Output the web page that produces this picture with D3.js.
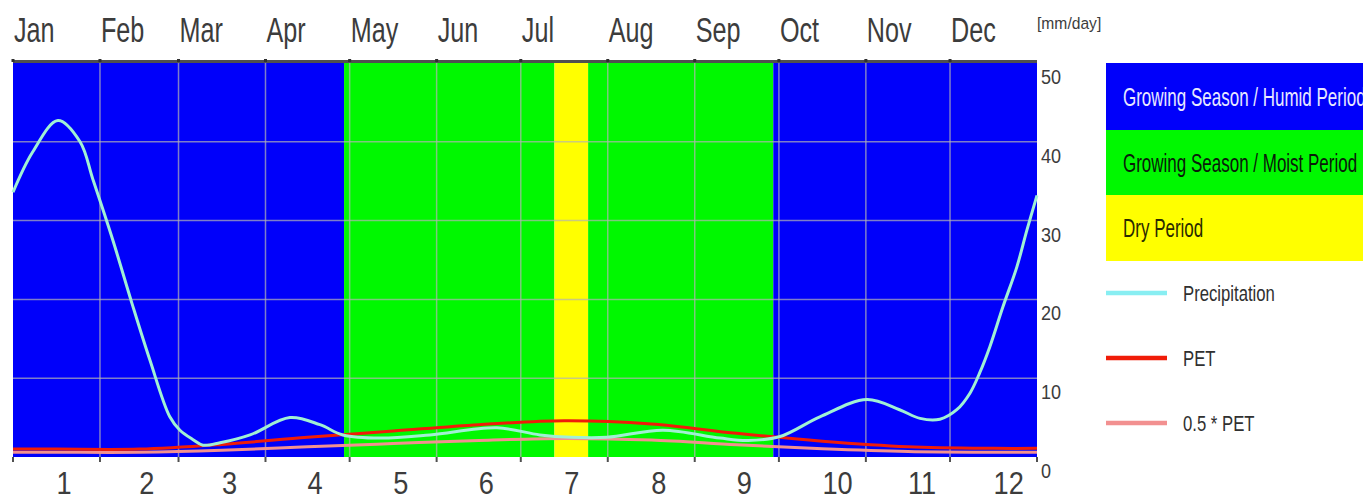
<!DOCTYPE html>
<html>
<head>
<meta charset="utf-8">
<script src="https://cdn.jsdelivr.net/npm/d3@7"></script>
<style>
  body { margin: 0; background: #fff; }
  text { font-family: "Liberation Sans", Arial, sans-serif; }
</style>
</head>
<body>
<svg id="chart" width="1363" height="499"></svg>
<script>
// Climate diagram: daily precipitation vs PET with growing-season periods

const monthNames = ['Jan', 'Feb', 'Mar', 'Apr', 'May', 'Jun', 'Jul', 'Aug', 'Sep', 'Oct', 'Nov', 'Dec'];
const monthNumbers = ['1', '2', '3', '4', '5', '6', '7', '8', '9', '10', '11', '12'];
const monthDays = [31, 28, 31, 30, 31, 30, 31, 31, 30, 31, 30, 31];
const yTicks = [0, 10, 20, 30, 40, 50];

// periods as day-of-year ranges
const periodStart = [0, 118, 193, 205, 271];
const periodEnd = [118, 193, 205, 271, 365];
const periodType = ['humid', 'moist', 'dry', 'moist', 'humid'];

// precipitation [mm/day], by day of year
const precipDay = [0, 7, 16, 23.9, 28.5, 35.6, 42.4, 48.8, 55.9, 59.5, 64.2, 67.7, 73.8, 84.5,
    98.7, 109.4, 117.6, 130.8, 148.6, 172.5, 187.8, 199, 211.7, 231.7, 252, 262, 273.4,
    287.6, 304.4, 316, 323.3, 330.4, 336.4, 341.1, 344.6, 348.2, 352.8, 357.8, 361.4, 365];
const precipValue = [33.6, 38.7, 42.7, 40.0, 35.2, 27.5, 19.5, 12.3, 5.1, 3.4, 2.2, 1.5, 1.8, 2.8,
    5.0, 4.1, 2.8, 2.4, 2.8, 3.7, 2.8, 2.5, 2.5, 3.4, 2.4, 2.1, 2.6,
    5.1, 7.3, 6.0, 4.9, 4.8, 6.0, 8.1, 10.7, 14.0, 19.0, 24.1, 28.8, 33.2];

// PET and 0.5*PET [mm/day] at month centres (plus the year ends)
const petDay = [0, 15.5, 45, 74.5, 105, 135.5, 166, 196.5, 227.5, 258, 288.5, 319, 349.5, 365];
const petValue = [1.0, 1.0, 1.0, 1.6, 2.5, 3.3, 4.1, 4.6, 4.2, 3.0, 2.0, 1.3, 1.1, 1.1];
const halfPetValue = [0.6, 0.6, 0.6, 0.85, 1.3, 1.7, 2.1, 2.35, 2.15, 1.55, 1.05, 0.7, 0.6, 0.6];

const periodLabels = ['Growing Season / Humid Period', 'Growing Season / Moist Period', 'Dry Period'];
const lineLabels = ['Precipitation', 'PET', '0.5 * PET'];

const colors = {
    humid: '#0000fa',
    moist: '#00f800',
    dry: '#ffff00',
    precip: '#a0f0d4',
    precipLegend: '#88eef2',
    pet: '#f01c08',
    halfPet: '#f29090',
    grid: '#b4b4b4',
    axisText: '#3c3c3c'
};

const svg = d3.select('#chart');
const plot = { left: 13, right: 1037, top: 63, bottom: 457 };

const x = d3.scaleLinear().domain([0, 365]).range([plot.left, plot.right]);
const y = d3.scaleLinear().domain([0, 50]).range([plot.bottom, plot.top]);

// month boundaries and centres in day-of-year
const monthStart = monthDays.map((d, i) => d3.sum(monthDays.slice(0, i)));
const monthCenter = monthStart.map((s, i) => s + monthDays[i] / 2);

// condensed text helper (the source uses a very narrow face)
function label(g, px, py, txt, size, sx, fill, anchor = 'start') {
    return g.append('text')
        .attr('transform', `translate(${px},${py}) scale(${sx},1)`)
        .attr('font-size', size)
        .attr('fill', fill)
        .attr('text-anchor', anchor)
        .text(txt);
}

// period bands
periodType.forEach((t, i) => {
    svg.append('rect')
        .attr('x', x(periodStart[i]))
        .attr('y', plot.top)
        .attr('width', x(periodEnd[i]) - x(periodStart[i]))
        .attr('height', plot.bottom - plot.top)
        .attr('fill', colors[t]);
});

// grid
const grid = svg.append('g').attr('stroke', colors.grid).attr('stroke-opacity', 0.7).attr('stroke-width', 1.5);
monthStart.slice(1).forEach(d => {
    grid.append('line')
        .attr('x1', x(d)).attr('x2', x(d))
        .attr('y1', plot.top).attr('y2', plot.bottom);
});
yTicks.filter(v => v > 0 && v < 50).forEach(v => {
    grid.append('line')
        .attr('x1', plot.left).attr('x2', plot.right)
        .attr('y1', y(v)).attr('y2', y(v));
});

// top axis line with tick dots
svg.append('line')
    .attr('x1', plot.left).attr('x2', plot.right)
    .attr('y1', plot.top - 1.5).attr('y2', plot.top - 1.5)
    .attr('stroke', '#505050').attr('stroke-width', 3);
monthStart.forEach(d => {
    svg.append('rect')
        .attr('x', x(d) - 1.5).attr('y', plot.top - 4)
        .attr('width', 3).attr('height', 3)
        .attr('fill', '#303030');
});

// bottom ticks
monthStart.concat([365]).forEach(d => {
    svg.append('line')
        .attr('x1', x(d)).attr('x2', x(d))
        .attr('y1', plot.bottom).attr('y2', plot.bottom + 5)
        .attr('stroke', '#505050').attr('stroke-width', 2);
});

// series
const petPoints = petDay.map((d, i) => ({ d, v: petValue[i] }));
const halfPetPoints = petDay.map((d, i) => ({ d, v: halfPetValue[i] }));
const precipPoints = precipDay.map((d, i) => ({ d, v: precipValue[i] }));

const line = d3.line()
    .x(p => x(p.d))
    .y(p => y(p.v))
    .curve(d3.curveCatmullRom.alpha(0.5));

svg.append('path').datum(halfPetPoints)
    .attr('fill', 'none').attr('stroke', colors.halfPet).attr('stroke-width', 3)
    .attr('d', line);
svg.append('path').datum(petPoints)
    .attr('fill', 'none').attr('stroke', colors.pet).attr('stroke-width', 3)
    .attr('d', line);
svg.append('path').datum(precipPoints)
    .attr('fill', 'none').attr('stroke', colors.precip).attr('stroke-width', 3)
    .attr('d', line);

// month labels (top, left aligned at month start) and numbers (bottom, starting at month centre)
const labels = svg.append('g');
monthNames.forEach((m, i) => {
    label(labels, x(monthStart[i]) + 1, 42, m, 35, 0.72, colors.axisText);
});
monthNumbers.forEach((m, i) => {
    label(labels, x(monthCenter[i]), 494, m, 32, 0.85, colors.axisText);
});

// right value axis
yTicks.forEach(v => {
    label(labels, plot.right + 4, y(v) + 21, String(v), 21, 0.86, colors.axisText);
});
label(labels, plot.right, 29, '[mm/day]', 17, 0.92, colors.axisText);

// legend: period boxes
const legend = svg.append('g');
const boxX = 1106;
const boxTop = [63, 130, 195];
const boxBottom = [130, 195, 261];
const boxFill = [colors.humid, colors.moist, colors.dry];
const boxText = ['#e8e8ff', '#0a1a0a', '#2a2a00'];
periodLabels.forEach((t, i) => {
    legend.append('rect')
        .attr('x', boxX).attr('y', boxTop[i])
        .attr('width', 1363 - boxX).attr('height', boxBottom[i] - boxTop[i])
        .attr('fill', boxFill[i]);
    label(legend, boxX + 17, (boxTop[i] + boxBottom[i]) / 2 + 9, t, 25, 0.68, boxText[i]);
});

// legend: line samples
const lineY = [293, 358, 423];
const lineColor = [colors.precipLegend, colors.pet, colors.halfPet];
lineLabels.forEach((t, i) => {
    legend.append('line')
        .attr('x1', boxX).attr('x2', 1167)
        .attr('y1', lineY[i]).attr('y2', lineY[i])
        .attr('stroke', lineColor[i]).attr('stroke-width', 4.5);
    label(legend, 1183, lineY[i] + 8, t, 22, 0.76, '#303030');
});
</script>
</body>
</html>
